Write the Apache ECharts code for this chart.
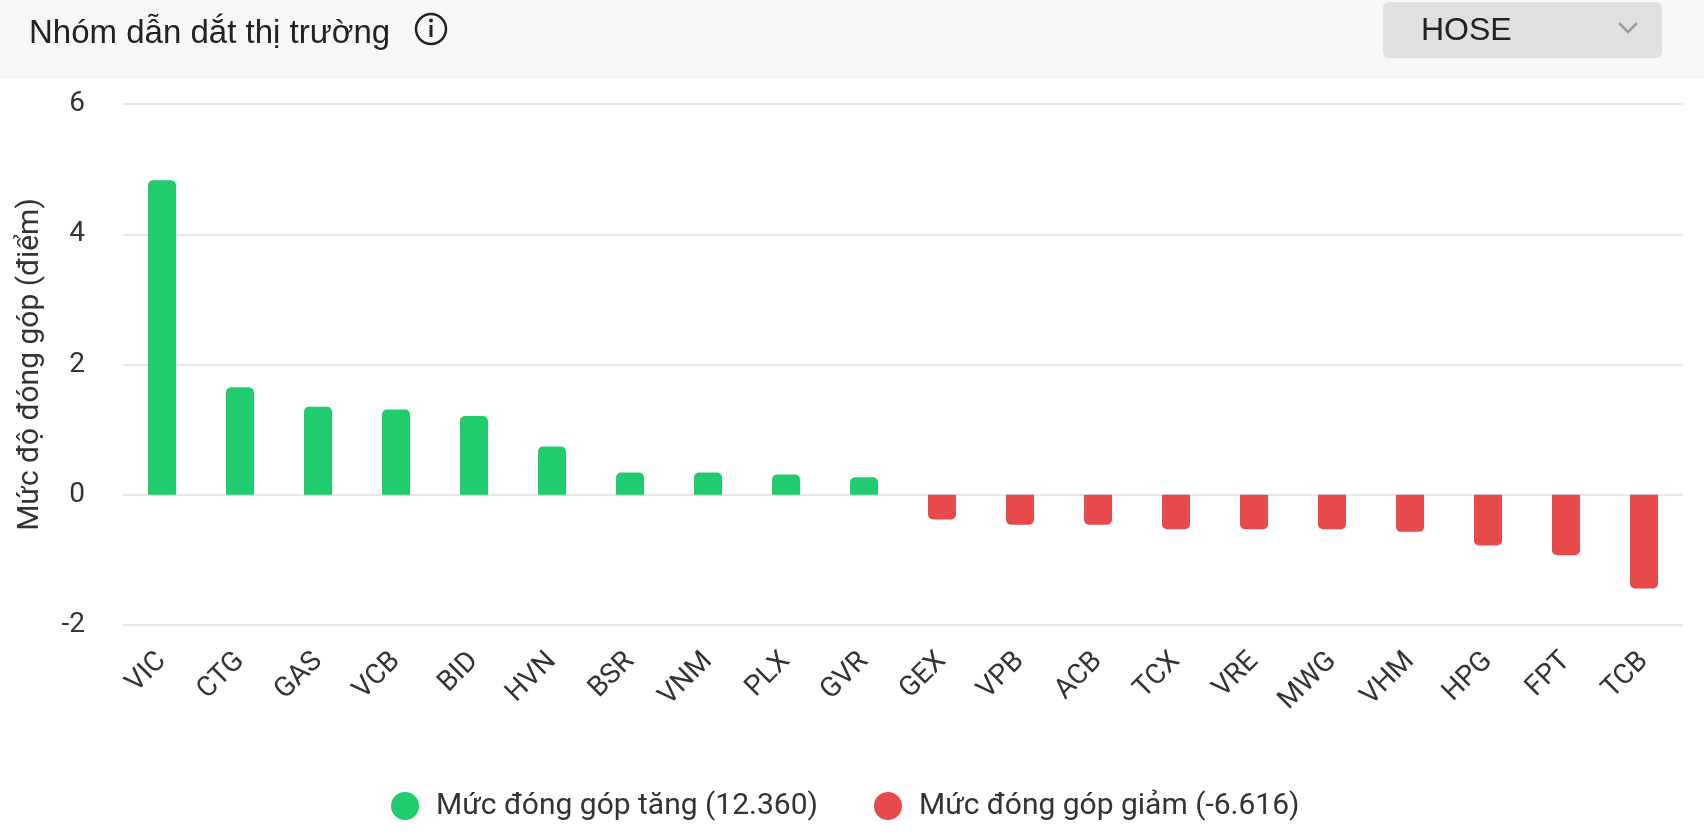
<!DOCTYPE html>
<html>
<head>
<meta charset="utf-8">
<script src="https://cdn.jsdelivr.net/npm/echarts@6/dist/echarts.min.js"></script>
<style>
  html, body { margin: 0; padding: 0; background: #fff; }
  #main { width: 1704px; height: 837px; }
</style>
</head>
<body>
<div id="main"></div>
<script>
var myChart = echarts.init(document.getElementById('main'));

// ma co phieu
var categories = ['VIC', 'CTG', 'GAS', 'VCB', 'BID', 'HVN', 'BSR', 'VNM', 'PLX', 'GVR',
                  'GEX', 'VPB', 'ACB', 'TCX', 'VRE', 'MWG', 'VHM', 'HPG', 'FPT', 'TCB'];
// muc dong gop tang (10 ma dau)
var upValues = [4.83, 1.65, 1.35, 1.31, 1.21, 0.74, 0.34, 0.34, 0.31, 0.27];
// muc dong gop giam (10 ma sau)
var downValues = [-0.38, -0.46, -0.46, -0.53, -0.53, -0.53, -0.57, -0.78, -0.93, -1.44];
var upTotal = '12.360';
var downTotal = '-6.616';
var yTicks = { min: -2, max: 6, interval: 2 };

var upName = 'Mức đóng góp tăng (' + upTotal + ')';
var downName = 'Mức đóng góp giảm (' + downTotal + ')';

// dua 2 chuoi ve cung truc category
var upData = [], downData = [];
for (var i = 0; i < categories.length; i++) {
    upData.push(i < upValues.length ? upValues[i] : null);
    downData.push(i >= upValues.length ? downValues[i - upValues.length] : null);
}

var font = 'Roboto, "Noto Sans", sans-serif';

option = {
    backgroundColor: '#ffffff',
    textStyle: { fontFamily: font },
    title: {
        text: 'Nhóm dẫn dắt thị trường',
        left: 24,
        top: 12,
        textStyle: {
            fontFamily: '"Liberation Sans", Arial, sans-serif',
            fontWeight: 'normal',
            fontSize: 33,
            color: '#222'
        },
        z: 10
    },
    graphic: [
        {   // nen header
            type: 'rect', left: 0, top: 0, z: -1,
            shape: { width: 1704, height: 79 },
            style: { fill: '#f7f7f7' }
        },
        {   // icon thong tin
            type: 'circle', z: 5,
            shape: { cx: 431, cy: 29, r: 15 },
            style: { fill: 'none', stroke: '#222', lineWidth: 2.5 }
        },
        {
            type: 'rect', z: 5,
            shape: { x: 429.5, y: 25, width: 3, height: 12 },
            style: { fill: '#222' }
        },
        {
            type: 'circle', z: 5,
            shape: { cx: 431, cy: 20.5, r: 2 },
            style: { fill: '#222' }
        },
        {   // hop chon san
            type: 'rect', z: 5,
            shape: { x: 1383, y: 2, width: 279, height: 56, r: 6 },
            style: { fill: '#e2dfdf' }
        },
        {
            type: 'text', z: 6, left: 1421, top: 15,
            style: {
                text: 'HOSE', fill: '#222', fontSize: 32,
                fontFamily: '"Liberation Sans", Arial, sans-serif'
            }
        },
        {
            type: 'polyline', z: 6,
            shape: { points: [[1619, 23], [1628, 32], [1637, 23]] },
            style: { fill: 'none', stroke: '#9a9a9a', lineWidth: 2.5 }
        }
    ],
    legend: {
        data: [upName, downName],
        left: 386,
        top: 786,
        icon: 'circle',
        itemWidth: 28,
        itemHeight: 28,
        itemGap: 56,
        textStyle: {
            fontSize: 30,
            color: '#333',
            padding: [0, 0, 0, 12]
        },
        selectedMode: false
    },
    grid: {
        left: 123,
        right: 21,
        top: 104,
        bottom: 212,
        containLabel: false
    },
    xAxis: {
        type: 'category',
        data: categories,
        axisLine: { show: false, onZero: false },
        axisTick: { show: false },
        axisLabel: {
            rotate: 45,
            margin: 32,
            fontSize: 28,
            color: '#333',
            interval: 0
        }
    },
    yAxis: {
        type: 'value',
        min: yTicks.min,
        max: yTicks.max,
        interval: yTicks.interval,
        name: 'Mức độ đóng góp (điểm)',
        nameLocation: 'middle',
        nameGap: 78,
        nameTextStyle: { fontSize: 30, color: '#333' },
        axisLine: { show: false },
        axisTick: { show: false },
        axisLabel: { fontSize: 28, color: '#333', margin: 38 },
        splitLine: { lineStyle: { color: '#e6e6e6', width: 2 } }
    },
    series: [
        {
            name: upName,
            type: 'bar',
            stack: 'dg',
            data: upData,
            barWidth: 28,
            itemStyle: { color: '#20cc6d', borderRadius: [5, 5, 0, 0] }
        },
        {
            name: downName,
            type: 'bar',
            stack: 'dg',
            data: downData,
            barWidth: 28,
            itemStyle: { color: '#e8494b', borderRadius: [0, 0, 5, 5] }
        }
    ]
};

myChart.setOption(option);
</script>
</body>
</html>
